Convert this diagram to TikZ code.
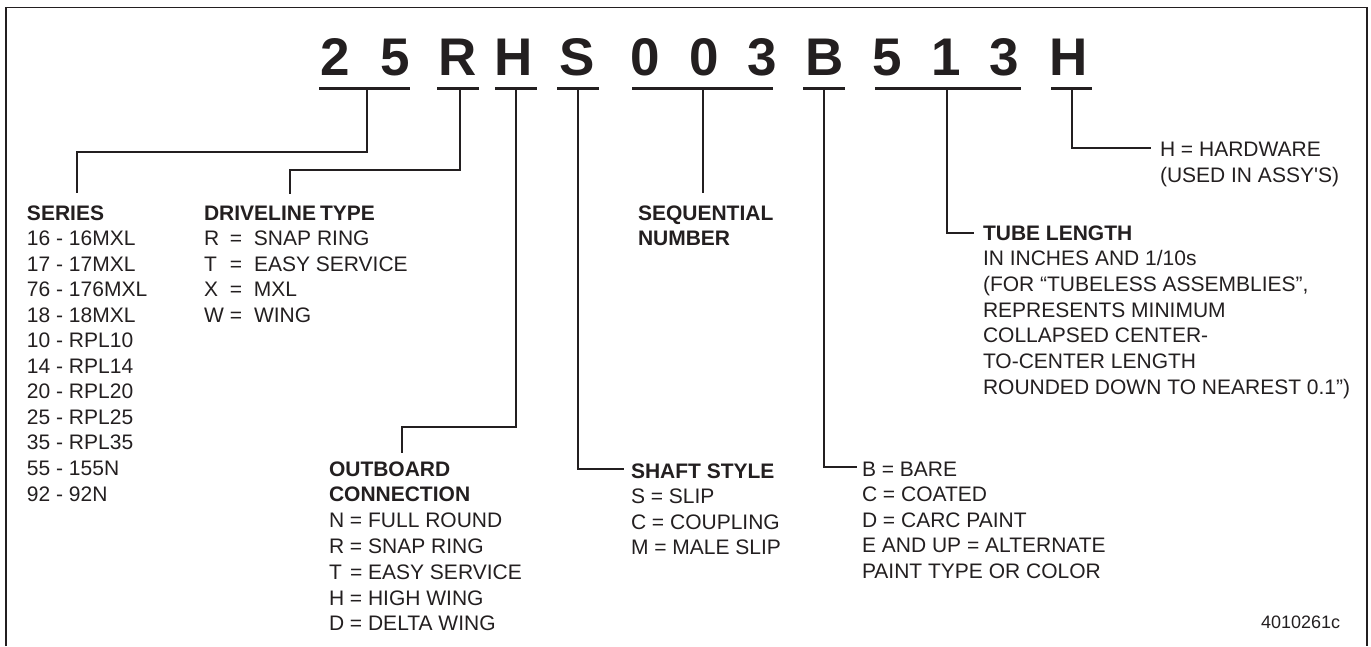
\documentclass[tikz,border=0pt]{standalone}
\usepackage{fontspec}
\setmainfont{Liberation Sans}
\usetikzlibrary{calc}
\definecolor{ink}{HTML}{231F20}
\newcommand\drvitem[2]{\makebox[26pt][l]{#1}\makebox[24pt][l]{=}#2}
\tikzset{
  txt/.style={anchor=base west, inner sep=0pt, outer sep=0pt, text=ink,
              font=\fontsize{21}{25}\selectfont},
  hd/.style={txt, font=\fontsize{21}{25}\selectfont\bfseries},
  small/.style={txt, font=\fontsize{18}{22}\selectfont},
  codechar/.style={anchor=base, inner sep=0pt, outer sep=0pt, text=ink,
              font=\fontsize{53}{60}\selectfont\bfseries},
  uline/.style={draw=ink, line width=3pt},
  conn/.style={draw=ink, line width=2.5pt, line join=miter},
  frameline/.style={draw=ink, line width=1.5pt}
}
\begin{document}
\begin{tikzpicture}[x=1pt,y=-1pt]
\useasboundingbox (0,0) rectangle (1371,646);
% frame (open at the bottom)
\draw[frameline] (6,646) -- (6,7.5) -- (1367,7.5) -- (1367,646);

% code characters
\foreach \c/\x/\n in {2/335.5/c1, 5/395/c2, R/458/c3, H/514/c4, S/577/c5,
                      0/645/c6, 0/704/c7, 3/762/c8, B/824.5/c9, 5/887/c10,
                      1/946/c11, 3/1004/c12, H/1069/c13}
  \node[codechar] (\n) at (\x,75) {\c};

% underlines
\draw[uline] (319,88.5) -- (410,88.5);
\draw[uline] (437,88.5) -- (479,88.5);
\draw[uline] (495,88.5) -- (537,88.5);
\draw[uline] (557,88.5) -- (599,88.5);
\draw[uline] (632,88.5) -- (773,88.5);
\draw[uline] (803,88.5) -- (845,88.5);
\draw[uline] (875,88.5) -- (1021,88.5);
\draw[uline] (1051,88.5) -- (1092,88.5);

% connector start points on the underlines
\coordinate (u25)  at (367,88.5);
\coordinate (uR)   at (460,88.5);
\coordinate (uH)   at (516,88.5);
\coordinate (uS)   at (578,88.5);
\coordinate (u003) at (703,88.5);
\coordinate (uB)   at (824,88.5);
\coordinate (u513) at (947,88.5);
\coordinate (uHw)  at (1072,88.5);

% connector end points
\coordinate (e25)  at (77,193);
\coordinate (eR)   at (290,194);
\coordinate (eH)   at (402,453);
\coordinate (eS)   at (624,469);
\coordinate (e003) at (703,193);
\coordinate (eB)   at (857,467);
\coordinate (e513) at (974,233);
\coordinate (eHw)  at (1151,148);

% connectors
\draw[conn] (u25) |- (77,152) -- (e25);
\draw[conn] (uR) |- (290,170) -- (eR);
\draw[conn] (uH) |- (402,427) -- (eH);
\draw[conn] (uS) |- (eS);
\draw[conn] (u003) -- (e003);
\draw[conn] (uB) |- (eB);
\draw[conn] (u513) |- (e513);
\draw[conn] (uHw) |- (eHw);

% SERIES
\node[hd] (series) at (27,220) {SERIES};
\foreach \t [count=\i] in {16 - 16MXL, 17 - 17MXL, 76 - 176MXL, 18 - 18MXL,
    10 - RPL10, 14 - RPL14, 20 - RPL20, 25 - RPL25, 35 - RPL35, 55 - 155N, 92 - 92N}
  \node[txt] (ser\i) at (27,220+25.55*\i) {\t};

% DRIVELINE TYPE
\node[hd] (driveline) at (204,220) {DRIVELINE\kern4pt TYPE};
\node[txt] (dr1) at (204,245.5) {\drvitem{R}{SNAP RING}};
\node[txt] (dr2) at (204,271) {\drvitem{T}{EASY SERVICE}};
\node[txt] (dr3) at (204,296.5) {\drvitem{X}{MXL}};
\node[txt] (dr4) at (204,322) {\makebox[26pt][l]{W}\makebox[24pt][l]{=}WING};

% SEQUENTIAL NUMBER
\node[hd] (seq1) at (638,220) {SEQUENTIAL};
\node[hd] (seq2) at (638,245.5) {NUMBER};

% OUTBOARD CONNECTION
\node[hd] (ob1) at (329,476) {OUTBOARD};
\node[hd] (ob2) at (329,501.5) {CONNECTION};
\node[txt] (ob3) at (329,527) {N = FULL ROUND};
\node[txt] (ob4) at (329,553) {R = SNAP RING};
\node[txt] (ob5) at (329,579) {\makebox[15.2pt][l]{T}\ = EASY SERVICE};
\node[txt] (ob6) at (329,605) {H = HIGH WING};
\node[txt] (ob7) at (329,630.5) {D = DELTA WING};

% SHAFT STYLE
\node[hd] (sh0) at (631,478) {SHAFT STYLE};
\node[txt] (sh1) at (631,503.5) {S = SLIP};
\node[txt] (sh2) at (631,529) {C = COUPLING};
\node[txt] (sh3) at (631,554.5) {M = MALE SLIP};

% paint
\node[txt] (pt1) at (862,476) {B = BARE};
\node[txt] (pt2) at (862,501.5) {C = COATED};
\node[txt] (pt3) at (862,527) {D = CARC PAINT};
\node[txt] (pt4) at (862,552.5) {E AND UP = ALTERNATE};
\node[txt] (pt5) at (862,578) {PAINT TYPE OR COLOR};

% TUBE LENGTH
\node[hd] (tl0) at (983,240) {TUBE LENGTH};
\foreach \t [count=\i] in {{IN INCHES AND 1/10s}, {(FOR “TUBELESS ASSEMBLIES”,},
    {REPRESENTS MINIMUM}, {COLLAPSED CENTER-}, {TO-CENTER LENGTH},
    {ROUNDED DOWN TO NEAREST 0.1”)}}
  \node[txt] (tl\i) at (983,240+25.67*\i) {\t};

% HARDWARE
\node[txt] (hw1) at (1160,156) {H = HARDWARE};
\node[txt] (hw2) at (1160,182) {(USED IN ASSY\textquotesingle S)};

% figure number
\node[small] (fig) at (1261,628) {4010261c};
\end{tikzpicture}
\end{document}
